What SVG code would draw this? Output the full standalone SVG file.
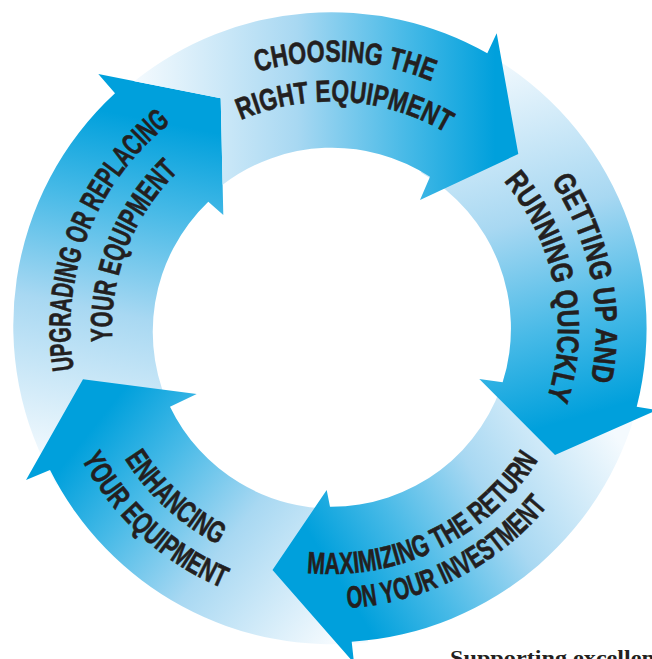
<svg xmlns="http://www.w3.org/2000/svg" width="652" height="659" viewBox="0 0 652 659">
<style>
.lbl{font-family:"Liberation Sans Narrow","Liberation Sans","DejaVu Sans Condensed",Arial,sans-serif;font-weight:bold;font-size:30.5px;fill:#231f20;stroke:#231f20;stroke-width:0.6px;}
.foot{font-family:"Liberation Serif","Times New Roman",serif;font-weight:bold;font-size:22px;fill:#231f20;}
</style>
<defs>
<linearGradient id="g1" gradientUnits="userSpaceOnUse" x1="135" y1="100" x2="495" y2="100">
<stop offset="0" stop-color="#f4fafe"/><stop offset="0.45" stop-color="#a8d8f2"/><stop offset="0.75" stop-color="#48bae7"/><stop offset="1" stop-color="#00a0dc"/>
</linearGradient>
<linearGradient id="g2" gradientUnits="userSpaceOnUse" x1="480" y1="60" x2="585" y2="415">
<stop offset="0" stop-color="#f4fafe"/><stop offset="0.45" stop-color="#a8d8f2"/><stop offset="0.75" stop-color="#48bae7"/><stop offset="1" stop-color="#00a0dc"/>
</linearGradient>
<linearGradient id="g3" gradientUnits="userSpaceOnUse" x1="600" y1="410" x2="335" y2="575">
<stop offset="0" stop-color="#f4fafe"/><stop offset="0.45" stop-color="#a8d8f2"/><stop offset="0.75" stop-color="#48bae7"/><stop offset="1" stop-color="#00a0dc"/>
</linearGradient>
<linearGradient id="g4" gradientUnits="userSpaceOnUse" x1="345" y1="625" x2="95" y2="425">
<stop offset="0" stop-color="#f4fafe"/><stop offset="0.45" stop-color="#a8d8f2"/><stop offset="0.75" stop-color="#48bae7"/><stop offset="1" stop-color="#00a0dc"/>
</linearGradient>
<linearGradient id="g5" gradientUnits="userSpaceOnUse" x1="80" y1="470" x2="150" y2="120">
<stop offset="0" stop-color="#f4fafe"/><stop offset="0.45" stop-color="#a8d8f2"/><stop offset="0.75" stop-color="#48bae7"/><stop offset="1" stop-color="#00a0dc"/>
</linearGradient>
<path id="t1a" d="M107.1,183.1 A267,267 0 0 1 568.9,207.3"/>
<path id="t1b" d="M141.7,203.2 A227,227 0 0 1 534.1,227.2"/>
<path id="t2a" d="M416.4,77.7 A265,265 0 0 1 505.6,527.9"/>
<path id="t2b" d="M404.2,113.6 A227,227 0 0 1 480.5,499.3"/>
<path id="t3a" d="M193.7,532 A245.5,245.5 0 0 0 575.9,345.6"/>
<path id="t3b" d="M178.5,563.3 A280,280 0 0 0 610.6,343.1"/>
<path id="t4a" d="M93,274.9 A244,244 0 0 0 403.6,561.5"/>
<path id="t4b" d="M56.3,267.1 A281.5,281.5 0 0 0 415.2,597.1"/>
<path id="t5a" d="M127.2,490.8 A260.5,260.5 0 0 1 292.3,70.9"/>
<path id="t5b" d="M160.3,465.7 A219,219 0 0 1 297.5,112.1"/>
</defs>
<rect width="652" height="659" fill="#ffffff"/>
<g id="upgrading">
<path d="M56.5,485.1 A316,316 0 0 1 115,93.3 L98.3,74 L220.7,98.3 L223.3,215 L208.3,201.7 A180,180 0 0 0 173.4,415.5 Z" fill="url(#g5)"/>
<text class="lbl"><textPath href="#t5a" startOffset="50%" text-anchor="middle" textLength="278" lengthAdjust="spacingAndGlyphs">UPGRADING OR REPLACING</textPath></text>
<text class="lbl"><textPath href="#t5b" startOffset="50%" text-anchor="middle" textLength="188" lengthAdjust="spacingAndGlyphs">YOUR EQUIPMENT</textPath></text>
</g>
<g id="enhancing">
<path d="M368.4,642.3 A316,316 0 0 1 50,470 L26,480 L83,379.3 L196.7,394 L170,406.7 A180,180 0 0 0 339.5,508.3 Z" fill="url(#g4)"/>
<text class="lbl"><textPath href="#t4a" startOffset="50%" text-anchor="middle" textLength="129" lengthAdjust="spacingAndGlyphs">ENHANCING</textPath></text>
<text class="lbl"><textPath href="#t4b" startOffset="50%" text-anchor="middle" textLength="195" lengthAdjust="spacingAndGlyphs">YOUR EQUIPMENT</textPath></text>
</g>
<g id="maximizing">
<path d="M640.9,390.4 A316,316 0 0 1 351.7,641.7 L354,663 L272.5,570 L326.7,490 L330,506.7 A180,180 0 0 0 505.3,373.3 Z" fill="url(#g3)"/>
<text class="lbl"><textPath href="#t3a" startOffset="50%" text-anchor="middle" textLength="271" lengthAdjust="spacingAndGlyphs">MAXIMIZING THE RETURN</textPath></text>
<text class="lbl"><textPath href="#t3b" startOffset="50%" text-anchor="middle" textLength="231" lengthAdjust="spacingAndGlyphs">ON YOUR INVESTMENT</textPath></text>
</g>
<g id="getting-up">
<path d="M474.5,46.9 A316,316 0 0 1 636.7,406.7 L657,410 L555,455 L479.3,379 L502.7,382.3 A180,180 0 0 0 421,172.6 Z" fill="url(#g2)"/>
<text class="lbl"><textPath href="#t2a" startOffset="50%" text-anchor="middle" textLength="209" lengthAdjust="spacingAndGlyphs">GETTING UP AND</textPath></text>
<text class="lbl"><textPath href="#t2b" startOffset="50%" text-anchor="middle" textLength="232" lengthAdjust="spacingAndGlyphs">RUNNING QUICKLY</textPath></text>
</g>
<g id="choosing">
<path d="M134.3,81.2 A316,316 0 0 1 487.3,53.3 L496.7,33.3 L518.3,154 L420,200 L430,176.7 A180,180 0 0 0 222.6,184.8 L220.7,98.3 Z" fill="url(#g1)"/>
<text class="lbl"><textPath href="#t1a" startOffset="50%" text-anchor="middle" textLength="178" lengthAdjust="spacingAndGlyphs">CHOOSING THE</textPath></text>
<text class="lbl"><textPath href="#t1b" startOffset="50%" text-anchor="middle" textLength="213" lengthAdjust="spacingAndGlyphs">RIGHT EQUIPMENT</textPath></text>
</g>
<text class="foot" x="450" y="665" textLength="205" lengthAdjust="spacingAndGlyphs">Supporting excellen</text>
</svg>
